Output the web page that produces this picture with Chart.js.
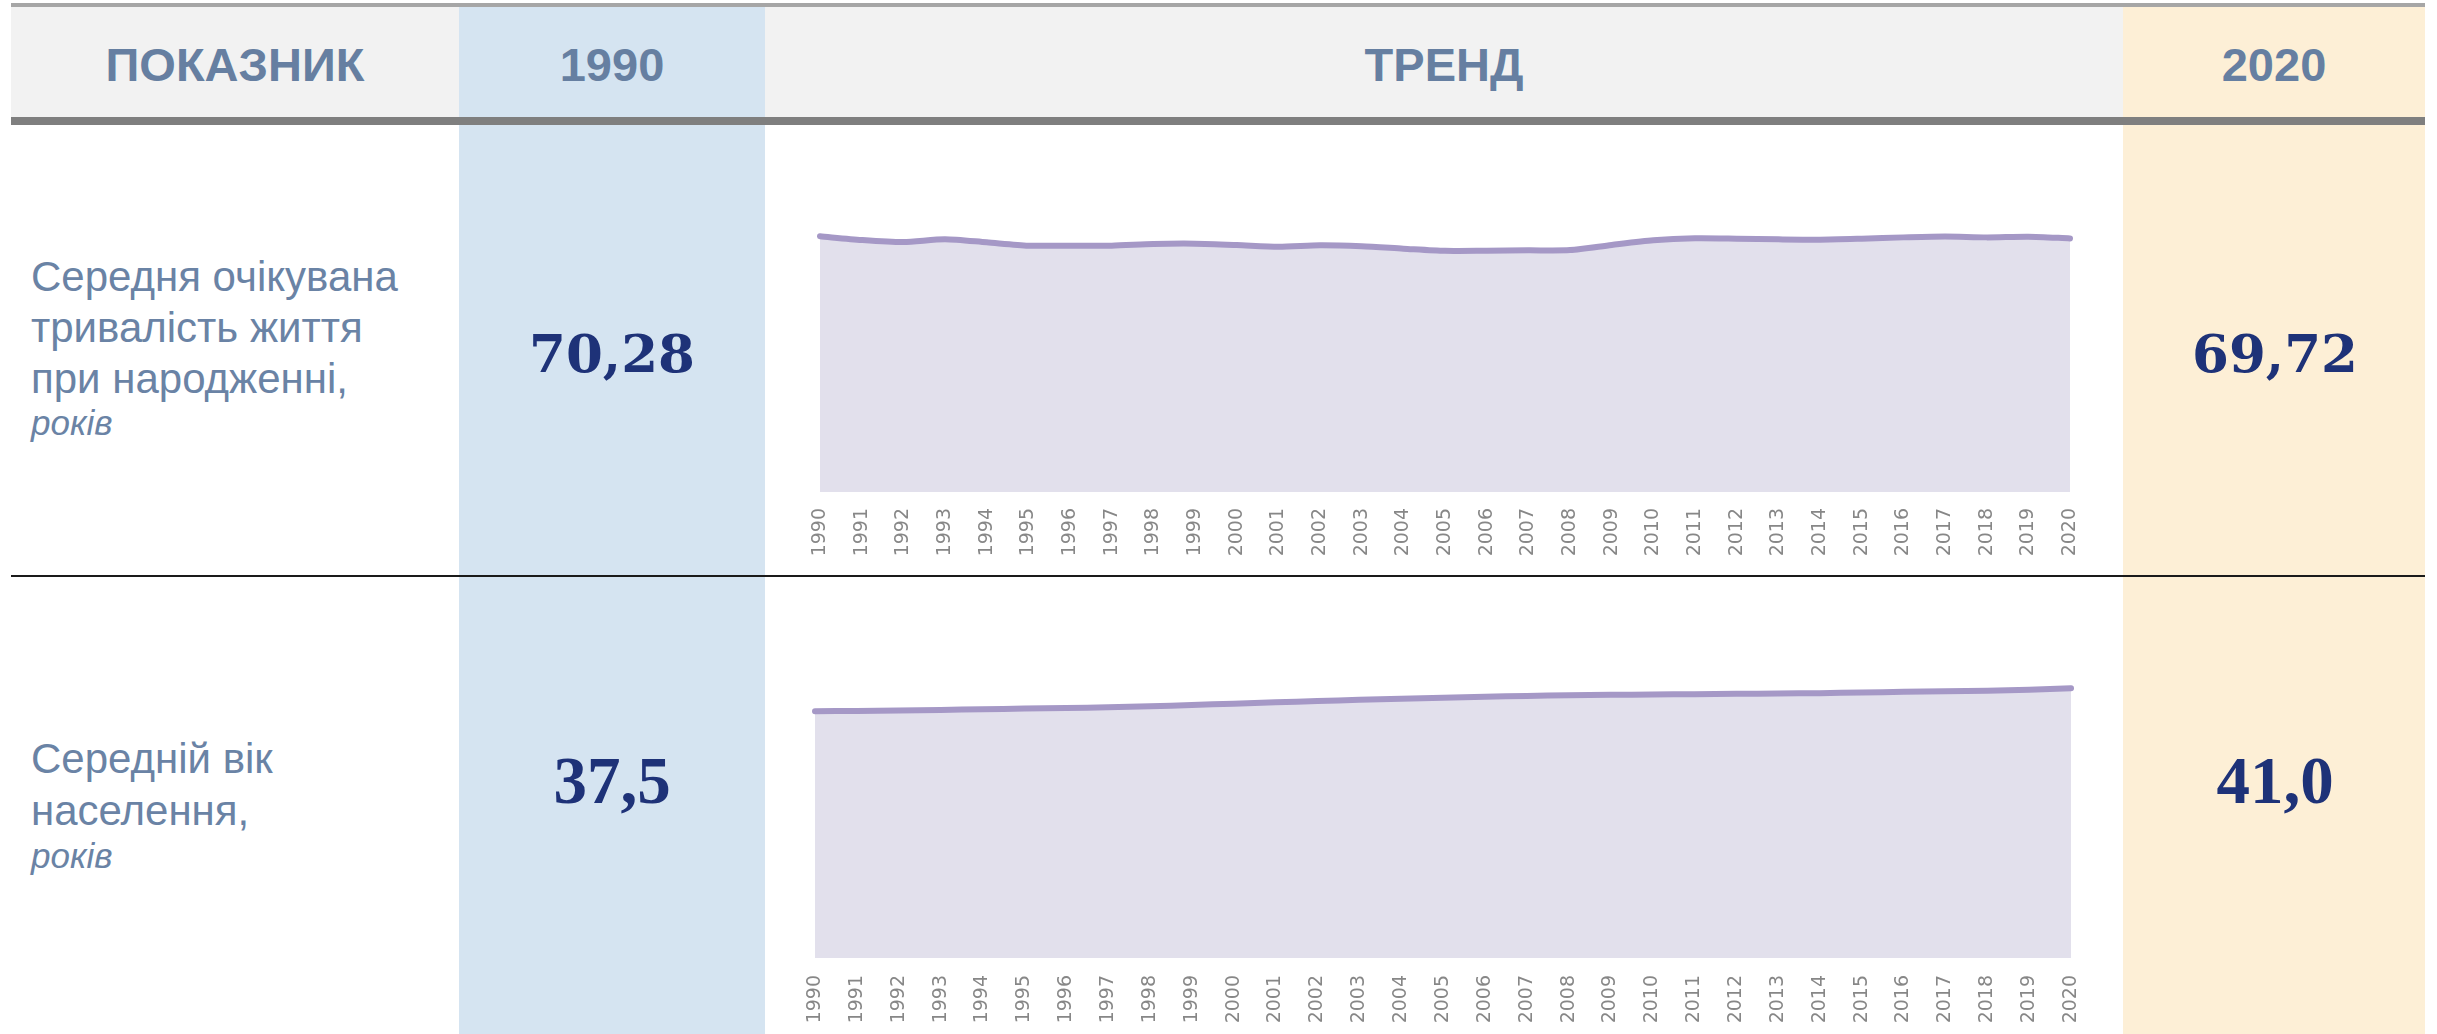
<!DOCTYPE html>
<html>
<head>
<meta charset="utf-8">
<script src="https://cdn.jsdelivr.net/npm/chart.js@4.4.1/dist/chart.umd.min.js"></script>
<style>
  html, body { margin: 0; padding: 0; background: #ffffff; }
  #wrap { position: relative; width: 2437px; height: 1034px; overflow: hidden; background: #ffffff; }
  svg { position: absolute; left: 0; top: 0; }
  canvas { position: absolute; }
  .hdr { font-family: "Liberation Sans", Arial, sans-serif; font-weight: bold; font-size: 47px; fill: #667fa1; }
  .lbl { font-family: "Liberation Sans", Arial, sans-serif; font-size: 42px; fill: #6a83a5; }
  .unit { font-family: "Liberation Sans", Arial, sans-serif; font-size: 35px; font-style: italic; fill: #6a83a5; }
  .v1 { font-family: "DejaVu Serif", serif; font-weight: bold; font-size: 53px; fill: #1e3278; }
  .v2 { font-family: "Liberation Serif", serif; font-weight: bold; font-size: 67px; fill: #1e3278; }
</style>
</head>
<body>
<div id="wrap">
<svg width="2437" height="1034">
  <rect x="11" y="3" width="2414" height="4" fill="#a6a6a6"/>
  <rect x="11" y="7" width="2414" height="110" fill="#f2f2f2"/>
  <rect x="459" y="7" width="306" height="1027" fill="#d5e4f1"/>
  <rect x="2123" y="7" width="302" height="1027" fill="#fdefd6"/>
  <rect x="11" y="117" width="2414" height="8" fill="#7f7f7f"/>
  <rect x="11" y="575" width="2414" height="2" fill="#1a1a1a"/>

  <text id="h0" class="hdr" x="235" y="81" text-anchor="middle"></text>
  <text id="h1" class="hdr" x="612" y="81" text-anchor="middle"></text>
  <text id="h2" class="hdr" x="1444" y="81" text-anchor="middle"></text>
  <text id="h3" class="hdr" x="2274" y="81" text-anchor="middle"></text>

  <text class="lbl" x="31" y="291">Середня очікувана</text>
  <text class="lbl" x="31" y="342">тривалість життя</text>
  <text class="lbl" x="31" y="393">при народженні,</text>
  <text class="unit" x="31" y="435">років</text>

  <text class="lbl" x="31" y="773">Середній вік</text>
  <text class="lbl" x="31" y="825">населення,</text>
  <text class="unit" x="31" y="868">років</text>

  <text id="r1a" class="v1" x="612" y="372" text-anchor="middle"></text>
  <text id="r1b" class="v1" x="2275" y="372" text-anchor="middle"></text>
  <text id="r2a" class="v2" x="612" y="803" text-anchor="middle"></text>
  <text id="r2b" class="v2" x="2275" y="803" text-anchor="middle"></text>
</svg>
<canvas id="c1" width="1330" height="440" style="left:780px; top:130px;"></canvas>
<canvas id="c2" width="1336" height="454" style="left:775px; top:580px;"></canvas>
</div>
<script>
// ---- data ----
const headers = ['ПОКАЗНИК', '1990', 'ТРЕНД', '2020'];
const years = ['1990','1991','1992','1993','1994','1995','1996','1997','1998','1999',
               '2000','2001','2002','2003','2004','2005','2006','2007','2008','2009',
               '2010','2011','2012','2013','2014','2015','2016','2017','2018','2019','2020'];
const lifeExpectancy = [70.28, 69.27, 68.70, 69.50, 68.63, 67.72, 67.72, 67.72, 68.18, 68.27,
                        67.90, 67.40, 67.81, 67.54, 66.90, 66.30, 66.35, 66.44, 66.50, 67.90,
                        69.18, 69.73, 69.64, 69.46, 69.37, 69.64, 70.00, 70.25, 70.00, 70.19, 69.72];
const medianAge = [37.50, 37.55, 37.60, 37.70, 37.80, 37.90, 38.00, 38.10, 38.25, 38.45,
                   38.65, 38.85, 39.05, 39.25, 39.40, 39.55, 39.70, 39.82, 39.95, 40.00,
                   40.05, 40.10, 40.15, 40.20, 40.25, 40.35, 40.45, 40.55, 40.62, 40.75, 41.00];
const lifeFirstLast = ['70,28', '69,72'];
const ageFirstLast = ['37,5', '41,0'];

document.getElementById('h0').textContent = headers[0];
document.getElementById('h1').textContent = headers[1];
document.getElementById('h2').textContent = headers[2];
document.getElementById('h3').textContent = headers[3];
document.getElementById('r1a').textContent = lifeFirstLast[0];
document.getElementById('r1b').textContent = lifeFirstLast[1];
document.getElementById('r2a').textContent = ageFirstLast[0];
document.getElementById('r2b').textContent = ageFirstLast[1];

function makeChart(id, values, yMax, padTop, axisH, tickPad) {
  return new Chart(document.getElementById(id), {
    type: 'line',
    data: {
      labels: years,
      datasets: [{
        data: values,
        borderColor: '#a598c6',
        backgroundColor: '#e2e0ec',
        borderWidth: 6,
        fill: 'origin',
        pointRadius: 0,
        pointHoverRadius: 0,
        tension: 0.25,
        borderCapStyle: 'round',
        borderJoinStyle: 'round'
      }]
    },
    options: {
      responsive: false,
      maintainAspectRatio: false,
      animation: false,
      devicePixelRatio: 1,
      layout: { padding: { left: 40, right: 40, top: padTop, bottom: 0 } },
      plugins: { legend: { display: false }, tooltip: { enabled: false } },
      scales: {
        x: {
          grid: { display: false, drawTicks: false },
          border: { display: false },
          ticks: {
            autoSkip: false,
            maxRotation: 90,
            minRotation: 90,
            padding: tickPad,
            color: '#878787',
            font: { family: 'DejaVu Sans', size: 19 }
          },
          afterFit: function (s) { s.height = axisH; }
        },
        y: { display: false, min: 0, max: yMax }
      }
    }
  });
}

makeChart('c1', lifeExpectancy, 80, 71, 78, 16);
makeChart('c2', medianAge, 50, 49, 76, 17);
</script>
</body>
</html>
